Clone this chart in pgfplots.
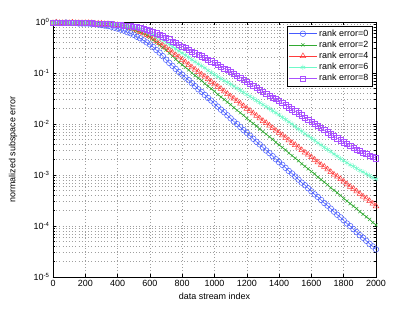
\documentclass[border=0pt]{standalone}
\usepackage{fontspec}
\setmainfont{Liberation Sans}
\usepackage{pgfplots}
\usepackage{pgfplotstable}
\pgfplotsset{compat=1.18}

\definecolor{cA}{RGB}{70,90,255}
\definecolor{cB}{RGB}{50,170,50}
\definecolor{cC}{RGB}{255,60,60}
\definecolor{cD}{RGB}{110,250,200}
\definecolor{cE}{RGB}{170,80,255}

\pgfplotstableread{
x y
0 0.955
20 0.977
40 0.955
60 0.955
80 0.977
100 0.955
120 0.955
140 0.955
160 0.933
180 0.933
200 0.933
220 0.933
240 0.912
260 0.912
280 0.891
300 0.871
320 0.851
340 0.832
360 0.813
380 0.776
400 0.741
420 0.708
440 0.676
460 0.631
480 0.603
500 0.562
520 0.513
540 0.479
560 0.437
580 0.398
600 0.363
620 0.324
640 0.282
660 0.251
680 0.214
700 0.182
720 0.158
740 0.138
760 0.120
780 0.105
800 0.0933
820 0.0813
840 0.0724
860 0.0631
880 0.0550
900 0.0479
920 0.0427
940 0.0372
960 0.0324
980 0.0288
1000 0.0251
1020 0.0219
1040 0.0191
1060 0.0170
1080 0.0148
1100 0.0129
1120 0.0112
1140 0.0100
1160 0.00871
1180 0.00759
1200 0.00676
1220 0.00589
1240 0.00513
1260 0.00447
1280 0.00398
1300 0.00347
1320 0.00302
1340 0.00269
1360 0.00234
1380 0.00204
1400 0.00178
1420 0.00158
1440 0.00138
1460 0.00120
1480 0.00107
1500 9.33e-4
1520 8.13e-4
1540 7.08e-4
1560 6.31e-4
1580 5.50e-4
1600 4.79e-4
1620 4.17e-4
1640 3.72e-4
1660 3.24e-4
1680 2.82e-4
1700 2.51e-4
1720 2.19e-4
1740 1.91e-4
1760 1.66e-4
1780 1.48e-4
1800 1.29e-4
1820 1.12e-4
1840 1.00e-4
1860 8.71e-5
1880 7.59e-5
1900 6.61e-5
1920 5.89e-5
1940 5.13e-5
1960 4.47e-5
1980 3.98e-5
2000 3.47e-5
}\rankzero

\pgfplotstableread{
x y
0 0.977
20 0.955
40 0.977
60 0.955
80 0.955
100 0.977
120 0.955
140 0.955
160 0.955
180 0.955
200 0.955
220 0.955
240 0.933
260 0.933
280 0.933
300 0.933
320 0.912
340 0.912
360 0.891
380 0.871
400 0.851
420 0.832
440 0.794
460 0.776
480 0.741
500 0.708
520 0.661
540 0.631
560 0.589
580 0.550
600 0.501
620 0.447
640 0.398
660 0.355
680 0.316
700 0.282
720 0.245
740 0.214
760 0.186
780 0.162
800 0.145
820 0.129
840 0.115
860 0.100
880 0.0891
900 0.0794
920 0.0708
940 0.0617
960 0.0550
980 0.0490
1000 0.0437
1020 0.0380
1040 0.0339
1060 0.0302
1080 0.0269
1100 0.0240
1120 0.0209
1140 0.0186
1160 0.0166
1180 0.0148
1200 0.0129
1220 0.0115
1240 0.0102
1260 0.00912
1280 0.00794
1300 0.00708
1320 0.00631
1340 0.00562
1360 0.00501
1380 0.00437
1400 0.00389
1420 0.00347
1440 0.00309
1460 0.00269
1480 0.00240
1500 0.00214
1520 0.00191
1540 0.00166
1560 0.00148
1580 0.00132
1600 0.00117
1620 0.00105
1640 9.12e-4
1660 8.13e-4
1680 7.24e-4
1700 6.46e-4
1720 5.62e-4
1740 5.01e-4
1760 4.47e-4
1780 3.98e-4
1800 3.47e-4
1820 3.09e-4
1840 2.75e-4
1860 2.45e-4
1880 2.19e-4
1900 1.91e-4
1920 1.70e-4
1940 1.51e-4
1960 1.35e-4
1980 1.17e-4
2000 1.05e-4
}\ranktwo

\pgfplotstableread{
x y
0 0.955
20 0.977
40 0.955
60 0.955
80 0.955
100 0.955
120 0.977
140 0.955
160 0.955
180 0.955
200 0.955
220 0.955
240 0.955
260 0.933
280 0.933
300 0.933
320 0.912
340 0.912
360 0.891
380 0.891
400 0.871
420 0.851
440 0.832
460 0.794
480 0.776
500 0.741
520 0.692
540 0.646
560 0.603
580 0.562
600 0.525
620 0.479
640 0.427
660 0.389
680 0.347
700 0.316
720 0.282
740 0.251
760 0.224
780 0.204
800 0.182
820 0.162
840 0.145
860 0.129
880 0.117
900 0.105
920 0.0933
940 0.0851
960 0.0759
980 0.0676
1000 0.0603
1020 0.0537
1040 0.0490
1060 0.0437
1080 0.0389
1100 0.0347
1120 0.0316
1140 0.0282
1160 0.0251
1180 0.0224
1200 0.0200
1220 0.0182
1240 0.0162
1260 0.0145
1280 0.0129
1300 0.0115
1320 0.0105
1340 0.00933
1360 0.00832
1380 0.00741
1400 0.00676
1420 0.00603
1440 0.00537
1460 0.00479
1480 0.00427
1500 0.00389
1520 0.00347
1540 0.00309
1560 0.00275
1580 0.00251
1600 0.00224
1620 0.00200
1640 0.00178
1660 0.00158
1680 0.00145
1700 0.00129
1720 0.00115
1740 0.00102
1760 9.33e-4
1780 8.32e-4
1800 7.41e-4
1820 6.61e-4
1840 5.89e-4
1860 5.37e-4
1880 4.79e-4
1900 4.27e-4
1920 3.80e-4
1940 3.47e-4
1960 3.09e-4
1980 2.75e-4
2000 2.45e-4
}\rankfour

\pgfplotstableread{
x y
0 0.955
20 0.955
40 0.977
60 0.955
80 0.955
100 0.955
120 0.955
140 0.977
160 0.955
180 0.955
200 0.955
220 0.955
240 0.955
260 0.955
280 0.933
300 0.933
320 0.933
340 0.933
360 0.912
380 0.912
400 0.891
420 0.871
440 0.851
460 0.832
480 0.813
500 0.794
520 0.759
540 0.724
560 0.676
580 0.646
600 0.603
620 0.562
640 0.513
660 0.479
680 0.437
700 0.398
720 0.363
740 0.331
760 0.295
780 0.269
800 0.245
820 0.224
840 0.204
860 0.182
880 0.166
900 0.151
920 0.138
940 0.126
960 0.112
980 0.102
1000 0.0933
1020 0.0851
1040 0.0776
1060 0.0708
1080 0.0661
1100 0.0603
1120 0.0550
1140 0.0501
1160 0.0457
1180 0.0417
1200 0.0380
1220 0.0347
1240 0.0316
1260 0.0288
1280 0.0263
1300 0.0240
1320 0.0219
1340 0.0200
1360 0.0182
1380 0.0166
1400 0.0151
1420 0.0135
1440 0.0123
1460 0.0110
1480 0.0100
1500 0.00891
1520 0.00794
1540 0.00724
1560 0.00646
1580 0.00589
1600 0.00525
1620 0.00479
1640 0.00427
1660 0.00389
1680 0.00347
1700 0.00316
1720 0.00288
1740 0.00257
1760 0.00234
1780 0.00209
1800 0.00191
1820 0.00174
1840 0.00158
1860 0.00148
1880 0.00135
1900 0.00123
1920 0.00115
1940 0.00105
1960 9.77e-4
1980 8.91e-4
2000 8.32e-4
}\ranksix

\pgfplotstableread{
x y
0 0.977
20 0.955
40 0.955
60 0.977
80 0.955
100 0.955
120 0.955
140 0.955
160 0.977
180 0.955
200 0.955
220 0.955
240 0.955
260 0.933
280 0.933
300 0.912
320 0.912
340 0.912
360 0.912
380 0.891
400 0.891
420 0.871
440 0.851
460 0.851
480 0.832
500 0.813
520 0.794
540 0.759
560 0.741
580 0.708
600 0.676
620 0.631
640 0.603
660 0.562
680 0.525
700 0.490
720 0.457
740 0.417
760 0.389
780 0.355
800 0.331
820 0.309
840 0.288
860 0.263
880 0.245
900 0.229
920 0.214
940 0.200
960 0.182
980 0.170
1000 0.158
1020 0.145
1040 0.135
1060 0.123
1080 0.115
1100 0.105
1120 0.0955
1140 0.0871
1160 0.0813
1180 0.0741
1200 0.0676
1220 0.0617
1240 0.0562
1260 0.0513
1280 0.0468
1300 0.0427
1320 0.0389
1340 0.0363
1360 0.0331
1380 0.0309
1400 0.0282
1420 0.0257
1440 0.0234
1460 0.0214
1480 0.0195
1500 0.0178
1520 0.0162
1540 0.0148
1560 0.0135
1580 0.0123
1600 0.0112
1620 0.0102
1640 0.00933
1660 0.00832
1680 0.00759
1700 0.00692
1720 0.00631
1740 0.00575
1760 0.00525
1780 0.00479
1800 0.00437
1820 0.00407
1840 0.00372
1860 0.00347
1880 0.00316
1900 0.00295
1920 0.00275
1940 0.00257
1960 0.00240
1980 0.00229
2000 0.00214
}\rankeight

\begin{document}
\begin{tikzpicture}
\path[use as bounding box] (-53bp,-36bp) rectangle (362bp,277bp);
\begin{axis}[
  at={(0,0)}, anchor=south west,
  scale only axis, width=323bp, height=255bp,
  ymode=log,
  xmin=0, xmax=2000, ymin=1e-5, ymax=1,
  xtick={0,200,...,2000},
  ytick={1e-5,1e-4,1e-3,1e-2,1e-1,1},
  yticklabels={10\textsuperscript{-5},10\textsuperscript{-4},10\textsuperscript{-3},10\textsuperscript{-2},10\textsuperscript{-1},10\textsuperscript{0}},
  minor x tick num=0,
  grid=both,
  major grid style={dash pattern=on 0.6bp off 2.6bp, gray!75, line width=0.5bp},
  minor grid style={dash pattern=on 0.6bp off 2.6bp, gray!75, line width=0.5bp},
  tick align=inside,
  major tick length=3.5bp, minor tick length=2bp,
  every tick/.style={black, line width=0.5bp},
  axis line style={black, line width=0.7bp},
  tick label style={font=\fontsize{9}{10}\selectfont},
  /pgf/number format/assume math mode=true,
  /pgf/number format/1000 sep={},
  xlabel={data stream index},
  ylabel={normalized subspace error},
  every axis x label/.style={at={(axis description cs:0.5,-0.075)}, anchor=center, font=\fontsize{9}{10}\selectfont},
  every axis y label/.style={at={(axis description cs:-0.124,0.5)}, rotate=90, anchor=center, font=\fontsize{9}{10}\selectfont},
  legend cell align=left,
  legend style={at={(1,1)}, anchor=north east, xshift=-4bp, yshift=-4bp,
     font=\fontsize{9}{10}\selectfont, draw=black, line width=0.5bp, fill=white,
     inner sep=1.5bp, row sep=-0.8bp},
  legend image code/.code={\draw[mark repeat=2,mark phase=2] plot coordinates {(0bp,0bp)(14bp,0bp)(28bp,0bp)};},
  every axis plot/.append style={line width=0.5bp},
]
\addplot[cA, mark=o, mark size=2.8bp] table[x=x,y=y] {\rankzero};
\addlegendentry{rank error=0}
\addplot[cB, mark=x, mark size=2.2bp] table[x=x,y=y] {\ranktwo};
\addlegendentry{rank error=2}
\addplot[cC, mark=triangle, mark size=3.2bp] table[x=x,y=y] {\rankfour};
\addlegendentry{rank error=4}
\addplot[cD, mark=asterisk, mark size=2.6bp] table[x=x,y=y] {\ranksix};
\addlegendentry{rank error=6}
\addplot[cE, mark=square, mark size=2.6bp] table[x=x,y=y] {\rankeight};
\addlegendentry{rank error=8}
\end{axis}
\end{tikzpicture}
\end{document}
